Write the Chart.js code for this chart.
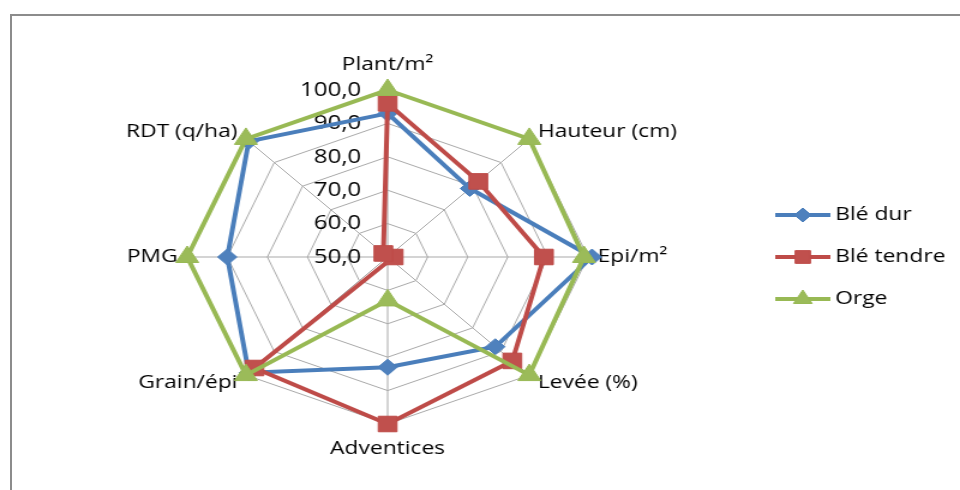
<!DOCTYPE html>
<html>
<head>
<meta charset="utf-8">
<script src="https://cdn.jsdelivr.net/npm/chart.js@4"></script>
<style>
  html, body { margin: 0; padding: 0; background: #fff; overflow: hidden; }
  #frame {
    position: absolute; left: 10px; top: 14px; width: 980px; height: 500px;
    border-top: 2px solid #8c8c8c; border-left: 2px solid #8c8c8c;
  }
  #wrap {
    position: absolute; left: 0; top: 0; width: 800px; height: 490px;
    transform: scaleX(1.2); transform-origin: 0 0;
  }
</style>
</head>
<body>
<div id="frame"></div>
<div id="wrap"><canvas id="c" width="800" height="490"></canvas></div>
<script>
// Axes of the radar, clockwise from the top
const categories = ['Plant/m²', 'Hauteur (cm)', 'Epi/m²', 'Levée (%)', 'Adventices', 'Grain/épi', 'PMG', 'RDT (q/ha)'];

// Series values
const bleDur    = [93, 79, 101, 88, 83, 99, 90, 99];
const bleTendre = [96, 82, 89, 94, 100, 97, 48.5, 51.5];
const orge      = [100, 100, 99, 100, 63, 100, 100, 100];

// Radial scale ticks
const tickValues = [50, 60, 70, 80, 90, 100];
const tickLabels = ['50,0', '60,0', '70,0', '80,0', '90,0', '100,0'];

const FONT = '19px "Open Sans", "Noto Sans", sans-serif';
const TICK_FONT = '20px "Open Sans", "Noto Sans", sans-serif';

const series = [
  { label: 'Blé dur',    data: bleDur,    line: '#4a7ebb', fill: '#4f81bd', style: 'rectRot',  r: 8,  lr: 7 },
  { label: 'Blé tendre', data: bleTendre, line: '#be4b48', fill: '#c0504d', style: 'rect',     r: 11, lr: 9 },
  { label: 'Orge',       data: orge,      line: '#98b954', fill: '#9bbb59', style: 'triangle', r: 11, lr: 9 }
];

// Axis tick labels and category labels, drawn under the series lines
const annotations = {
  id: 'annotations',
  beforeDatasetsDraw(chart) {
    const ctx = chart.ctx;
    const sc = chart.scales.r;
    const R = sc.drawingArea;
    ctx.save();
    ctx.fillStyle = '#000';
    ctx.textBaseline = 'middle';

    ctx.font = TICK_FONT;
    ctx.textAlign = 'right';
    tickValues.forEach((v, i) => {
      const d = sc.getDistanceFromCenterForValue(v);
      ctx.fillText(tickLabels[i], sc.xCenter - 22, sc.yCenter - d);
    });

    ctx.font = FONT;
    categories.forEach((t, i) => {
      const u = sc.getPointPosition(i, 1);
      const ux = u.x - sc.xCenter, uy = u.y - sc.yCenter;
      const vertical = Math.abs(ux) < 0.05;
      const horizontal = Math.abs(uy) < 0.05;
      const extra = vertical ? 25 : (horizontal ? 8 : 10);
      const p = sc.getPointPosition(i, R + extra);
      ctx.textAlign = vertical ? 'center' : (ux > 0 ? 'left' : 'right');
      ctx.fillText(t, p.x, p.y);
    });
    ctx.restore();
  },
  afterDraw(chart) {
    // Legend: line sample with its marker, then the series name
    const ctx = chart.ctx;
    const sc = chart.scales.r;
    ctx.save();
    ctx.font = FONT;
    ctx.textBaseline = 'middle';
    ctx.textAlign = 'left';
    series.forEach((s, k) => {
      const y = sc.yCenter + (k - 1) * 42;
      ctx.strokeStyle = s.line;
      ctx.lineWidth = 4;
      ctx.beginPath();
      ctx.moveTo(646, y);
      ctx.lineTo(692, y);
      ctx.stroke();
      ctx.fillStyle = s.fill;
      ctx.strokeStyle = s.line;
      ctx.lineWidth = 1;
      Chart.helpers.drawPoint(ctx, { pointStyle: s.style, radius: s.lr, rotation: 0, borderWidth: 1 }, 669, y);
      ctx.fillStyle = '#000';
      ctx.fillText(s.label, 696, y);
    });
    ctx.restore();
  }
};

new Chart(document.getElementById('c'), {
  type: 'radar',
  data: {
    labels: categories,
    datasets: series.map((s, k) => ({
      label: s.label,
      data: s.data,
      borderColor: s.line,
      backgroundColor: s.fill,
      borderWidth: 4,
      fill: false,
      tension: 0,
      clip: false,
      order: 3 - k,
      pointStyle: s.style,
      pointRadius: s.r,
      pointBorderWidth: 1,
      pointBorderColor: s.line,
      pointBackgroundColor: s.fill
    }))
  },
  options: {
    responsive: false,
    devicePixelRatio: 1,
    animation: false,
    layout: { padding: { top: 90, bottom: 66, left: 156, right: 310 } },
    plugins: { legend: { display: false }, tooltip: { enabled: false } },
    scales: {
      r: {
        min: 50,
        max: 100,
        ticks: { stepSize: 10, display: false },
        grid: { color: '#a9a9a9', lineWidth: 1 },
        angleLines: { color: '#a9a9a9', lineWidth: 1 },
        pointLabels: { display: false }
      }
    }
  },
  plugins: [annotations]
});
</script>
</body>
</html>
